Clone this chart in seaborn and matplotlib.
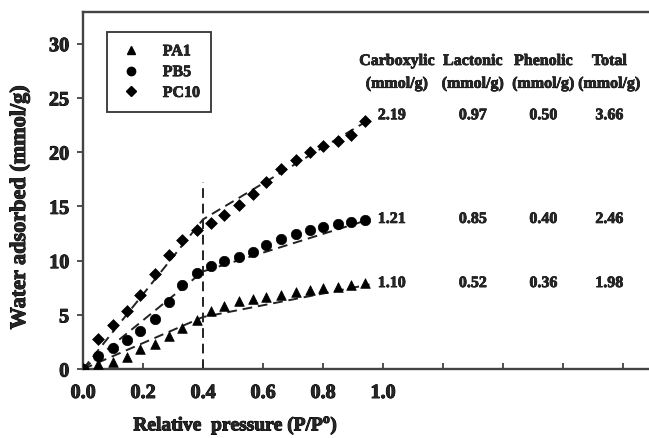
import numpy as np
import pandas as pd
import matplotlib
matplotlib.use("Agg")
import matplotlib.pyplot as plt
import matplotlib.patheffects as pe
import seaborn as sns
from matplotlib.lines import Line2D

sns.set_theme(style="white")
plt.rcParams['font.family'] = ['Liberation Serif', 'DejaVu Serif']
plt.rcParams['font.weight'] = 'bold'

# ---- data ----
x_pts = [0.0, 0.05, 0.10, 0.145, 0.19, 0.24, 0.285, 0.33, 0.38, 0.425, 0.47,
         0.52, 0.565, 0.61, 0.66, 0.71, 0.755, 0.80, 0.85, 0.895, 0.94]
pa1 = [0.0, 0.46, 0.67, 1.13, 1.85, 2.31, 3.07, 3.75, 4.55, 5.33, 5.78,
       6.25, 6.46, 6.61, 6.83, 7.07, 7.29, 7.44, 7.59, 7.75, 7.90]
pb5 = [0.0, 1.17, 1.91, 2.70, 3.54, 4.61, 6.15, 7.78, 8.89, 9.53, 9.92,
       10.36, 10.82, 11.44, 11.99, 12.45, 12.82, 13.07, 13.35, 13.53, 13.75]
pc10 = [0.0, 2.77, 4.06, 5.35, 6.83, 8.76, 10.50, 11.93, 12.82, 13.48, 14.24,
        15.13, 16.14, 17.20, 18.40, 19.30, 19.99, 20.60, 21.06, 21.60, 22.90]

fit_x = [0.0, 0.4, 0.955]
fit_pa1 = [0.0, 4.8, 7.8]
fit_pb5 = [0.0, 9.0, 13.8]
fit_pc10 = [0.0, 13.8, 23.0]

series_names = ["PA1", "PB5", "PC10"]
row_labels_y = [7.93, 13.84, 23.4]   # rows aligned with PA1, PB5, PC10
col_headers = ["Carboxylic", "Lactonic", "Phenolic", "Total"]
col_units = ["(mmol/g)", "(mmol/g)", "(mmol/g)", "(mmol/g)"]
carboxylic = ["1.10", "1.21", "2.19"]
lactonic = ["0.52", "0.85", "0.97"]
phenolic = ["0.36", "0.40", "0.50"]
total = ["1.98", "2.46", "3.66"]

y_ticks = [0, 5, 10, 15, 20, 25, 30]
x_ticks = [0.0, 0.2, 0.4, 0.6, 0.8, 1.0, 1.2, 1.4, 1.6, 1.8]
x_ticklabels = ["0.0", "0.2", "0.4", "0.6", "0.8", "1.0", "", "", "", ""]

# ---- frame ----
df = pd.DataFrame({
    "x": x_pts * 3,
    "y": pa1 + pb5 + pc10,
    "sample": ["PA1"] * len(x_pts) + ["PB5"] * len(x_pts) + ["PC10"] * len(x_pts),
})
fit_df = pd.DataFrame({
    "x": fit_x * 3,
    "y": fit_pa1 + fit_pb5 + fit_pc10,
    "sample": ["PA1"] * 3 + ["PB5"] * 3 + ["PC10"] * 3,
})

fig = plt.figure(figsize=(6.49, 4.39), dpi=100)
ax = fig.add_axes([0.128, 0.157, 0.872, 0.813])

heavy = [pe.withStroke(linewidth=0.7, foreground="black")]

markers = {"PA1": "^", "PB5": "o", "PC10": "D"}
sizes = {"PA1": 48, "PB5": 56, "PC10": 36}

for s in series_names:
    sub_fit = fit_df[fit_df["sample"] == s]
    sns.lineplot(data=sub_fit, x="x", y="y", ax=ax, color="#222222",
                 linewidth=1.4, linestyle=(0, (5, 3)), legend=False,
                 estimator=None, sort=False)
for s in series_names:
    sub = df[df["sample"] == s]
    sns.scatterplot(data=sub, x="x", y="y", ax=ax, marker=markers[s],
                    s=sizes[s], color="black", edgecolor="black",
                    linewidth=0.5, legend=False, zorder=3)

ax.plot([0.4, 0.4], [0, 17.2], color="#222222", linewidth=1.4,
        linestyle=(0, (5, 3)))

ax.set_xlim(0, 1.887)
ax.set_ylim(0, 32.9)
ax.set_xticks(x_ticks)
ax.set_xticklabels(x_ticklabels)
ax.set_yticks(y_ticks)
ax.set_yticklabels([str(v) for v in y_ticks])

for side in ["left", "bottom", "top"]:
    ax.spines[side].set_visible(True)
    ax.spines[side].set_color("#444444")
    ax.spines[side].set_linewidth(1.7)
ax.spines["right"].set_visible(False)

ax.tick_params(axis="x", direction="in", length=4, width=1.2, color="#333333",
               pad=10, labelsize=14.5, bottom=True)
ax.tick_params(axis="y", direction="out", length=4, width=1.2, color="#333333",
               pad=6, labelsize=14.5, left=True)
for lab in ax.get_xticklabels() + ax.get_yticklabels():
    lab.set_fontweight("bold")
    lab.set_path_effects(heavy)

ax.set_xlabel("")
ax.set_ylabel("")
fig.text(236 / 649, 1 - 427 / 439, "Relative  pressure (P/P$^{\\mathregular{o}}$)",
         ha="center", va="center", fontsize=14, fontweight="bold",
         path_effects=heavy)
fig.text(20 / 649, 1 - 208 / 439, "Water adsorbed (mmol/g)", rotation=90,
         ha="center", va="center", fontsize=16, fontweight="bold",
         path_effects=heavy)

# legend
handles = [Line2D([], [], marker=markers[s], linestyle="none", color="black",
                  markersize=6 if s != "PC10" else 5) for s in series_names]
leg = ax.legend(handles, series_names, loc="upper left",
                bbox_to_anchor=(0.042, 0.944), borderaxespad=0,
                frameon=True, fancybox=False, edgecolor="black",
                prop={"family": "Liberation Serif", "weight": "bold", "size": 11.5},
                handletextpad=1.2, labelspacing=0.3, borderpad=0.7,
                handlelength=1.6)
leg.get_frame().set_linewidth(1.3)
for t in leg.get_texts():
    t.set_path_effects([pe.withStroke(linewidth=0.5, foreground="black")])

# table of surface groups
thin = [pe.withStroke(linewidth=0.5, foreground="black")]
col_x = [1.04, 1.30, 1.535, 1.755]
for cx, h, u in zip(col_x, col_headers, col_units):
    hx = 1.047 if h == "Carboxylic" else cx
    ax.text(hx, 28.4, h, ha="center", va="center",
            fontsize=11.5, fontweight="bold", path_effects=thin)
    ax.text(hx, 26.3, u, ha="center", va="center",
            fontsize=11.5, fontweight="bold", path_effects=thin)
for i, ry in enumerate(row_labels_y):
    for cx, vals in zip(col_x, [carboxylic, lactonic, phenolic, total]):
        ax.text(cx - (0.01 if cx == col_x[0] else 0), ry, vals[i], ha="center",
                va="center", fontsize=11.5, fontweight="bold", path_effects=thin)

fig.savefig("out.png", dpi=100)
